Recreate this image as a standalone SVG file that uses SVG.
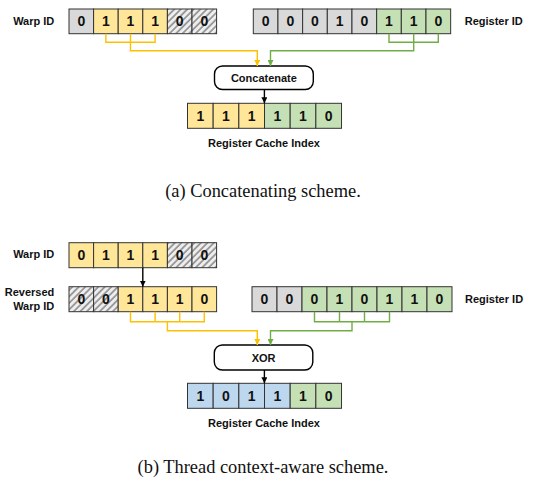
<svg xmlns="http://www.w3.org/2000/svg" width="536" height="484" viewBox="0 0 536 484">
<defs>
<pattern id="hatch" patternUnits="userSpaceOnUse" width="4.6" height="4.6" patternTransform="rotate(45)">
<rect width="4.6" height="4.6" fill="#eeeeee"/>
<line x1="1" y1="0" x2="1" y2="4.6" stroke="#8c8c8c" stroke-width="1.6"/>
</pattern>
<marker id="ay" viewBox="0 0 10 10" refX="10" refY="5" markerWidth="6" markerHeight="6" markerUnits="userSpaceOnUse" orient="auto"><path d="M0,0 L10,5 L0,10 Z" fill="#ffc000"/></marker>
<marker id="ag" viewBox="0 0 10 10" refX="10" refY="5" markerWidth="6" markerHeight="6" markerUnits="userSpaceOnUse" orient="auto"><path d="M0,0 L10,5 L0,10 Z" fill="#70ad47"/></marker>
<marker id="ab" viewBox="0 0 10 10" refX="10" refY="5" markerWidth="6" markerHeight="6" markerUnits="userSpaceOnUse" orient="auto"><path d="M0,0 L10,5 L0,10 Z" fill="#000"/></marker>
</defs>
<style>
.c{stroke:#333;stroke-width:1}
.g{fill:#d9d9d9}.y{fill:#ffe699}.n{fill:#c5e0b4}.b{fill:#bdd7ee}.h{fill:url(#hatch)}
.d{font-family:"Liberation Sans",Arial,sans-serif;font-weight:bold;font-size:14px;text-anchor:middle;fill:#111}
.l{font-family:"Liberation Sans",Arial,sans-serif;font-weight:bold;font-size:11px;fill:#111}
.cap{font-family:"Liberation Serif","Times New Roman",serif;font-size:18.4px;text-anchor:middle;fill:#111}
.box{fill:#fff;stroke:#000;stroke-width:1.4}
.ly{fill:none;stroke:#ffc000;stroke-width:1.4}
.lg{fill:none;stroke:#70ad47;stroke-width:1.4}
.lb{fill:none;stroke:#000;stroke-width:1.4}
</style>

<!-- Part (a) -->
<g id="a-warp">
<rect class="c g" x="69" y="9" width="24.6" height="24.7"/>
<rect class="c y" x="93.6" y="9" width="24.6" height="24.7"/>
<rect class="c y" x="118.2" y="9" width="24.6" height="24.7"/>
<rect class="c y" x="142.8" y="9" width="24.6" height="24.7"/>
<rect class="c h" x="167.4" y="9" width="24.6" height="24.7"/>
<rect class="c h" x="192" y="9" width="24.6" height="24.7"/>
<text class="d" x="81.3" y="26.4">0</text>
<text class="d" x="105.9" y="26.4">1</text>
<text class="d" x="130.5" y="26.4">1</text>
<text class="d" x="155.1" y="26.4">1</text>
<text class="d" x="179.7" y="26.4">0</text>
<text class="d" x="204.3" y="26.4">0</text>
<text class="l" x="54.3" y="25" text-anchor="end">Warp ID</text>
</g>
<g id="a-reg">
<rect class="c g" x="253.3" y="9" width="24.67" height="24.7"/>
<rect class="c g" x="277.97" y="9" width="24.67" height="24.7"/>
<rect class="c g" x="302.64" y="9" width="24.67" height="24.7"/>
<rect class="c g" x="327.31" y="9" width="24.67" height="24.7"/>
<rect class="c g" x="351.98" y="9" width="24.67" height="24.7"/>
<rect class="c n" x="376.65" y="9" width="24.67" height="24.7"/>
<rect class="c n" x="401.32" y="9" width="24.67" height="24.7"/>
<rect class="c n" x="425.99" y="9" width="24.67" height="24.7"/>
<text class="d" x="265.6" y="26.4">0</text>
<text class="d" x="290.3" y="26.4">0</text>
<text class="d" x="315" y="26.4">0</text>
<text class="d" x="339.6" y="26.4">1</text>
<text class="d" x="364.3" y="26.4">0</text>
<text class="d" x="389" y="26.4">1</text>
<text class="d" x="413.7" y="26.4">1</text>
<text class="d" x="438.3" y="26.4">0</text>
<text class="l" x="464.7" y="25">Register ID</text>
</g>
<g id="a-concat">
<rect class="box" x="214.5" y="66" width="98.8" height="23.5" rx="8"/>
<text class="l" x="263.9" y="81.7" text-anchor="middle">Concatenate</text>
</g>
<g id="a-result">
<rect class="c y" x="187.5" y="103.3" width="25.67" height="25"/>
<rect class="c y" x="213.17" y="103.3" width="25.67" height="25"/>
<rect class="c y" x="238.84" y="103.3" width="25.67" height="25"/>
<rect class="c n" x="264.51" y="103.3" width="25.67" height="25"/>
<rect class="c n" x="290.18" y="103.3" width="25.67" height="25"/>
<rect class="c n" x="315.85" y="103.3" width="25.67" height="25"/>
<text class="d" x="200.3" y="120.9">1</text>
<text class="d" x="226" y="120.9">1</text>
<text class="d" x="251.7" y="120.9">1</text>
<text class="d" x="277.3" y="120.9">1</text>
<text class="d" x="303" y="120.9">1</text>
<text class="d" x="328.7" y="120.9">0</text>
<text class="l" x="264" y="147" text-anchor="middle">Register Cache Index</text>
</g>
<text class="cap" x="263" y="196.5">(a) Concatenating scheme.</text>

<!-- Part (b) -->
<g id="b-warp">
<rect class="c y" x="69" y="242.7" width="24.6" height="25"/>
<rect class="c y" x="93.6" y="242.7" width="24.6" height="25"/>
<rect class="c y" x="118.2" y="242.7" width="24.6" height="25"/>
<rect class="c y" x="142.8" y="242.7" width="24.6" height="25"/>
<rect class="c h" x="167.4" y="242.7" width="24.6" height="25"/>
<rect class="c h" x="192" y="242.7" width="24.6" height="25"/>
<text class="d" x="81.3" y="260.3">0</text>
<text class="d" x="105.9" y="260.3">1</text>
<text class="d" x="130.5" y="260.3">1</text>
<text class="d" x="155.1" y="260.3">1</text>
<text class="d" x="179.7" y="260.3">0</text>
<text class="d" x="204.3" y="260.3">0</text>
<text class="l" x="54.3" y="258.3" text-anchor="end">Warp ID</text>
</g>
<g id="b-rev">
<rect class="c h" x="69" y="286.7" width="24.6" height="25"/>
<rect class="c h" x="93.6" y="286.7" width="24.6" height="25"/>
<rect class="c y" x="118.2" y="286.7" width="24.6" height="25"/>
<rect class="c y" x="142.8" y="286.7" width="24.6" height="25"/>
<rect class="c y" x="167.4" y="286.7" width="24.6" height="25"/>
<rect class="c y" x="192" y="286.7" width="24.6" height="25"/>
<text class="d" x="81.3" y="304.3">0</text>
<text class="d" x="105.9" y="304.3">0</text>
<text class="d" x="130.5" y="304.3">1</text>
<text class="d" x="155.1" y="304.3">1</text>
<text class="d" x="179.7" y="304.3">1</text>
<text class="d" x="204.3" y="304.3">0</text>
<text class="l" x="54.3" y="295.7" text-anchor="end">Reversed</text>
<text class="l" x="54.3" y="310" text-anchor="end">Warp ID</text>
</g>
<g id="b-reg">
<rect class="c g" x="252" y="286.7" width="25" height="25"/>
<rect class="c g" x="277" y="286.7" width="25" height="25"/>
<rect class="c n" x="302" y="286.7" width="25" height="25"/>
<rect class="c n" x="327" y="286.7" width="25" height="25"/>
<rect class="c n" x="352" y="286.7" width="25" height="25"/>
<rect class="c n" x="377" y="286.7" width="25" height="25"/>
<rect class="c n" x="402" y="286.7" width="25" height="25"/>
<rect class="c n" x="427" y="286.7" width="25" height="25"/>
<text class="d" x="264.5" y="304.3">0</text>
<text class="d" x="289.5" y="304.3">0</text>
<text class="d" x="314.5" y="304.3">0</text>
<text class="d" x="339.5" y="304.3">1</text>
<text class="d" x="364.5" y="304.3">0</text>
<text class="d" x="389.5" y="304.3">1</text>
<text class="d" x="414.5" y="304.3">1</text>
<text class="d" x="439.5" y="304.3">0</text>
<text class="l" x="465" y="303.3">Register ID</text>
</g>
<g id="b-xor">
<rect class="box" x="214.3" y="345" width="98.5" height="25" rx="8"/>
<text class="l" x="263.6" y="361.5" text-anchor="middle">XOR</text>
</g>
<g id="b-result">
<rect class="c b" x="187.5" y="383.3" width="25.67" height="25"/>
<rect class="c b" x="213.17" y="383.3" width="25.67" height="25"/>
<rect class="c b" x="238.84" y="383.3" width="25.67" height="25"/>
<rect class="c b" x="264.51" y="383.3" width="25.67" height="25"/>
<rect class="c n" x="290.18" y="383.3" width="25.67" height="25"/>
<rect class="c n" x="315.85" y="383.3" width="25.67" height="25"/>
<text class="d" x="200.3" y="400.9">1</text>
<text class="d" x="226" y="400.9">0</text>
<text class="d" x="251.7" y="400.9">1</text>
<text class="d" x="277.3" y="400.9">1</text>
<text class="d" x="303" y="400.9">1</text>
<text class="d" x="328.7" y="400.9">0</text>
<text class="l" x="264" y="426.7" text-anchor="middle">Register Cache Index</text>
</g>
<text class="cap" x="263" y="473">(b) Thread context-aware scheme.</text>

<g id="connectors">
<path class="ly" d="M105.9,33.7 V42.3 H155.1 V33.7 M130.5,33.7 V50.7 H257.3 V66" marker-end="url(#ay)"/>
<path class="lg" d="M389,33.7 V42.3 H438.3 V33.7 M413.7,33.7 V50.7 H270.5 V66" marker-end="url(#ag)"/>
<path class="lb" d="M264.4,89.5 V103.3" marker-end="url(#ab)"/>
<path class="lb" d="M142.8,267.7 V286.7" marker-end="url(#ab)"/>
<path class="ly" d="M130.5,311.7 V321.7 H204.3 V311.7 M155.1,311.7 V321.7 M179.7,311.7 V321.7 M167.4,321.7 V330.7 H257.3 V345" marker-end="url(#ay)"/>
<path class="lg" d="M314.5,311.7 V321.7 H389.5 V311.7 M339.5,311.7 V321.7 M364.5,311.7 V321.7 M352,321.7 V330.7 H270.5 V345" marker-end="url(#ag)"/>
<path class="lb" d="M264.4,370 V383.3" marker-end="url(#ab)"/>
</g>
</svg>
